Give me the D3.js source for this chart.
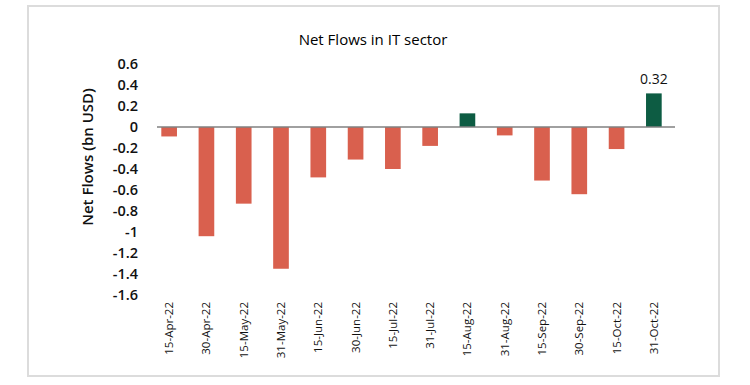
<!DOCTYPE html>
<html>
<head>
    <meta charset="UTF-8">
    <title>Net Flows in IT sector</title>
    <script src="https://d3js.org/d3.v7.min.js"></script>
    <style>
        body { margin: 0; background: #fff; }
        text { font-family: "Open Sans", sans-serif; fill: #111; }
    </style>
</head>
<body>
    <svg class="chart"></svg>

    <script>
    // data
    const dates = ["15-Apr-22", "30-Apr-22", "15-May-22", "31-May-22", "15-Jun-22", "30-Jun-22", "15-Jul-22",
                   "31-Jul-22", "15-Aug-22", "31-Aug-22", "15-Sep-22", "30-Sep-22", "15-Oct-22", "31-Oct-22"];
    const flows = [-0.09, -1.04, -0.73, -1.35, -0.48, -0.31, -0.40, -0.18, 0.13, -0.08, -0.51, -0.64, -0.21, 0.32];
    const yTicks = [0.6, 0.4, 0.2, 0, -0.2, -0.4, -0.6, -0.8, -1, -1.2, -1.4, -1.6];
    const labelled = ["31-Oct-22"];

    const data = dates.map((d, i) => ({date: d, value: flows[i]}));

    const width = 750;
    const height = 385;

    const svg = d3.select(".chart")
        .attr("width", width)
        .attr("height", height);

    // outer frame
    svg.append("rect")
        .attr("x", 28)
        .attr("y", 6)
        .attr("width", 691)
        .attr("height", 370)
        .style("fill", "#fff")
        .style("stroke", "#dcdcdc")
        .style("stroke-width", 2);

    const x_scale = d3.scaleBand()
        .domain(dates)
        .range([150.5, 672.5])
        .paddingInner(0.58)
        .paddingOuter(0.29);

    const y_scale = d3.scaleLinear()
        .domain([0.6, -1.6])
        .range([64, 295]);

    // title
    svg.append("text")
        .attr("x", 373)
        .attr("y", 45)
        .attr("text-anchor", "middle")
        .style("font-size", "15px")
        .style("fill", "#000")
        .text("Net Flows in IT sector");

    // y tick labels (no axis line), plain hyphen for minus
    const yAxis = svg.append("g")
        .attr("transform", "translate(138, 0)")
        .call(d3.axisLeft(y_scale).tickValues(yTicks).tickSize(0).tickPadding(0)
            .tickFormat(d => String(+d.toFixed(1))));
    yAxis.select(".domain").remove();
    yAxis.selectAll("text")
        .style("font-family", "'Open Sans', sans-serif")
        .style("font-size", "14.5px")
        .style("font-weight", "600")
        .style("fill", "#111");

    // y axis title
    svg.append("text")
        .attr("text-anchor", "middle")
        .attr("transform", "translate(93, 157) rotate(-90)")
        .style("font-size", "15px")
        .style("font-weight", "600")
        .text("Net Flows (bn USD)");

    // bars
    svg.selectAll(".bar")
        .data(data).enter().append("rect")
        .attr("class", "bar")
        .attr("x", d => x_scale(d.date))
        .attr("y", d => y_scale(Math.max(0, d.value)))
        .attr("width", x_scale.bandwidth())
        .attr("height", d => Math.abs(y_scale(d.value) - y_scale(0)))
        .style("fill", d => d.value >= 0 ? "#0d5c43" : "#d9604e");

    // zero line
    svg.append("line")
        .attr("x1", 157)
        .attr("x2", 675)
        .attr("y1", y_scale(0))
        .attr("y2", y_scale(0))
        .style("stroke", "#808080")
        .style("stroke-width", 1.5);

    // data label
    svg.selectAll(".lbl")
        .data(data.filter(d => labelled.includes(d.date))).enter().append("text")
        .attr("class", "lbl")
        .attr("x", d => x_scale(d.date) + x_scale.bandwidth() / 2)
        .attr("y", d => y_scale(d.value) - 9)
        .attr("text-anchor", "middle")
        .style("font-size", "14px")
        .text(d => d.value.toFixed(2));

    // x labels, rotated
    const xAxis = svg.append("g")
        .attr("transform", "translate(0, 302)")
        .call(d3.axisBottom(x_scale).tickSize(0).tickPadding(0));
    xAxis.select(".domain").remove();
    xAxis.selectAll("text")
        .attr("transform", "rotate(-90)")
        .attr("x", 0)
        .attr("y", 0)
        .attr("dy", "0.35em")
        .attr("text-anchor", "end")
        .style("font-family", "'Open Sans', sans-serif")
        .style("font-size", "11.5px")
        .style("fill", "#111");
    </script>
</body>
</html>
